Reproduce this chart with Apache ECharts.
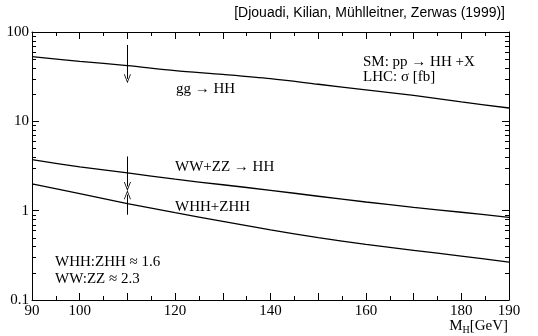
<!DOCTYPE html>
<html><head><meta charset="utf-8">
<script src="https://cdn.jsdelivr.net/npm/echarts@6/dist/echarts.min.js"></script>
<style>html,body{margin:0;padding:0;background:#fff}#c{width:538px;height:336px}</style>
</head><body><div id="c"></div>
<script>
const xVals = [90,100,110,120,130,140,150,160,170,180,190];
const ggHH = [53,47,42,37,33.5,30,26,22.5,19.5,16.5,14.1];
const wwzzHH = [3.72,3.1,2.65,2.25,1.95,1.69,1.45,1.25,1.09,0.96,0.84];
const whhzhh = [1.99,1.55,1.2,0.95,0.76,0.61,0.5,0.42,0.36,0.31,0.265];
const xLabels = [90,100,120,140,160,180,190];
const yMinorTicks = [0.2,0.3,0.4,0.5,0.6,0.7,0.8,0.9,2,3,4,5,6,7,8,9,20,30,40,50,60,70,80,90];
const arrowX = 110;
const arrowGG = [71.6, 29.9];
const arrowWW = [4.04, 1.87];
const arrowWHH = [0.90, 1.51];

const SERIF = '"Liberation Serif","Times New Roman",serif';
const chart = echarts.init(document.getElementById('c'));
const arrowHead = 'path://M5,0 L10,10 L8.8,10 L5,2.4 L1.2,10 L0,10 Z';
function arrowML(a){
  return {silent:true, symbol:['none', arrowHead], symbolSize:[7,9], symbolOffset:[0,0],
    lineStyle:{color:'#000', width:1, type:'solid'}, label:{show:false},
    data:[[{coord:[arrowX,a[0]]},{coord:[arrowX,a[1]]}]]};
}
function mk(vals){ return xVals.map((x,i)=>[x, vals[i]]); }
const lineStyle = {color:'#000', width:1.3};
chart.setOption({
  animation:false,
  grid:{left:32, right:29, top:32, bottom:36},
  xAxis:[{type:'value', min:90, max:190, interval:10,
    axisLine:{onZero:false, lineStyle:{color:'#000', width:1}},
    axisTick:{inside:true, length:7, lineStyle:{color:'#000'}},
    minorTick:{show:true, splitNumber:2, length:4, lineStyle:{color:'#000'}},
    splitLine:{show:false},
    axisLabel:{margin:4, color:'#000', fontFamily:SERIF, fontSize:15,
      formatter:v=> xLabels.indexOf(v)>=0 ? String(v) : ''}},
   {type:'value', position:'top', min:90, max:190, interval:10,
    axisLine:{onZero:false, lineStyle:{color:'#000', width:1}},
    axisTick:{inside:true, length:7, lineStyle:{color:'#000'}},
    minorTick:{show:true, splitNumber:2, length:4, lineStyle:{color:'#000'}},
    splitLine:{show:false}, axisLabel:{show:false}}],
  yAxis:[{type:'log', logBase:10, min:0.1, max:100,
    axisLine:{onZero:false, lineStyle:{color:'#000', width:1}},
    axisTick:{inside:true, length:7, lineStyle:{color:'#000'}},
    splitLine:{show:false},
    axisLabel:{margin:3, color:'#000', fontFamily:SERIF, fontSize:15,
      formatter:v=> v<1 ? String(Math.round(v*10)/10) : String(Math.round(v))}},
   {type:'log', logBase:10, min:0.1, max:100, position:'right',
    axisLine:{onZero:false, lineStyle:{color:'#000', width:1}},
    axisTick:{inside:true, length:7, lineStyle:{color:'#000'}},
    splitLine:{show:false}, axisLabel:{show:false}}],
  series:[
    {type:'line', data:mk(ggHH), smooth:0.3, symbol:'none', lineStyle, markLine:arrowML(arrowGG)},
    {type:'line', data:mk(wwzzHH), smooth:0.3, symbol:'none', lineStyle, markLine:arrowML(arrowWW)},
    {type:'line', data:mk(whhzhh), smooth:0.3, symbol:'none', lineStyle, markLine:arrowML(arrowWHH)},
    {type:'custom', silent:true, clip:false, data:yMinorTicks.map(v=>[90,v]),
      renderItem:(params, api)=>{
        const v = api.value(1);
        const pL = api.coord([90, v]); const pR = api.coord([190, v]);
        const y = Math.round(pL[1]) + 0.5;
        return {type:'group', children:[
          {type:'line', shape:{x1:pL[0], y1:y, x2:pL[0]+4, y2:y}, style:{stroke:'#000', lineWidth:1}},
          {type:'line', shape:{x1:pR[0]-4, y1:y, x2:pR[0], y2:y}, style:{stroke:'#000', lineWidth:1}}
        ]};
      }}
  ],
  graphic:[
    {type:'text', x:505, y:13, style:{text:'[Djouadi, Kilian, Mühlleitner, Zerwas (1999)]', font:'14px "Liberation Sans",Arial,sans-serif', fill:'#000', align:'right', verticalAlign:'middle'}},
    {type:'text', x:363, y:62, style:{text:'SM: pp → HH +X', font:'15px '+SERIF, fill:'#000', verticalAlign:'middle'}},
    {type:'text', x:363, y:77, style:{text:'LHC: σ [fb]', font:'15px '+SERIF, fill:'#000', verticalAlign:'middle'}},
    {type:'text', x:176, y:89, style:{text:'gg → HH', font:'15px '+SERIF, fill:'#000', verticalAlign:'middle'}},
    {type:'text', x:175, y:167, style:{text:'WW+ZZ → HH', font:'15px '+SERIF, fill:'#000', verticalAlign:'middle'}},
    {type:'text', x:175, y:207, style:{text:'WHH+ZHH', font:'15px '+SERIF, fill:'#000', verticalAlign:'middle'}},
    {type:'text', x:55, y:262, style:{text:'WHH:ZHH ≈ 1.6', font:'15px '+SERIF, fill:'#000', verticalAlign:'middle'}},
    {type:'text', x:55, y:279, style:{text:'WW:ZZ ≈ 2.3', font:'15px '+SERIF, fill:'#000', verticalAlign:'middle'}},
    {type:'text', x:508, y:326, style:{text:'{m|M}{s|H}{m|[GeV]}', align:'right', verticalAlign:'middle',
      rich:{m:{font:'15px '+SERIF, fill:'#000'}, s:{font:'10px '+SERIF, fill:'#000', padding:[8,0,0,0]}}}}
  ]
});
</script></body></html>
